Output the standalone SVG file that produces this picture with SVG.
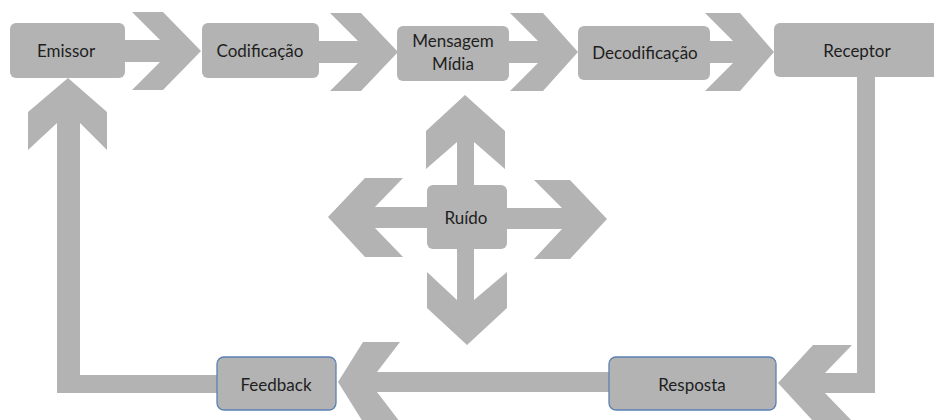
<svg xmlns="http://www.w3.org/2000/svg" width="934" height="420" viewBox="0 0 934 420">
<style>
.shape{fill:#b3b3b3;}
.box{fill:#b3b3b3;}
.box2{fill:#b3b3b3;stroke:#5b80b2;stroke-width:1.3;}
.lbl{font-family:Lato,"Open Sans","Liberation Sans",sans-serif;font-size:17px;fill:#1e1e1e;text-anchor:middle;}
</style>
<rect width="934" height="420" fill="#ffffff"/>
<g id="connectors">
<polygon class="shape" points="120,40 160,40 132,12 163,12 201,51 163,90 132,90 160,62 120,62"/>
<polygon class="shape" points="315,41 358,41 330,13 361,13 398,52 361,91 330,91 358,63 315,63"/>
<polygon class="shape" points="505,41 538,41 510,13 543,13 578,52 543,91 510,91 538,63 505,63"/>
<polygon class="shape" points="705,41 733,41 705,13 740,13 774,52 740,91 705,91 733,63 705,63"/>
<polygon class="shape" points="875,75 875,393 825,393 852,421 813,421 778,383 813,345 852,345 825,373 857,373 857,75"/>
<polygon class="shape" points="612,372 612,392 377,392 400,422 363,422 338,382 363,342 400,342 377,372"/>
<polygon class="shape" points="220,375 80,375 80,123 107,150 107,112 68,78 28,112 28,150 57,123 57,393 220,393"/>
<polygon class="shape" points="474,187 474,142 505,169 505,131 465,95 426,131 426,169 457,142 457,187"/>
<polygon class="shape" points="457,247 457,300 427,272 427,308 467,345 507,308 507,272 474,300 474,247"/>
<polygon class="shape" points="429,207 375,207 403,178 365,178 328,217 365,257 403,257 375,228 429,228"/>
<polygon class="shape" points="505,208 562,208 534,180 570,180 607,219 570,259 534,259 562,229 505,229"/>
</g>
<g id="emissor"><rect class="box" x="10" y="23" width="115" height="55" rx="6"/><text class="lbl" x="66" y="57">Emissor</text></g>
<g id="codificacao"><rect class="box" x="202" y="23" width="117" height="55" rx="6"/><text class="lbl" x="260" y="57">Codificação</text></g>
<g id="mensagem"><rect class="box" x="397" y="26" width="112" height="55" rx="6"/><text class="lbl" x="453" y="47">Mensagem</text><text class="lbl" x="453" y="70">Mídia</text></g>
<g id="decodificacao"><rect class="box" x="578" y="26" width="132" height="54" rx="6"/><text class="lbl" x="645" y="59">Decodificação</text></g>
<g id="receptor"><rect class="box" x="774" y="23" width="166" height="54" rx="6"/><text class="lbl" x="857" y="57">Receptor</text></g>
<g id="ruido"><rect class="box" x="427" y="185" width="80" height="64" rx="6"/><text class="lbl" x="466" y="224">Ruído</text></g>
<g id="feedback"><rect class="box2" x="217" y="357" width="119" height="53" rx="7"/><text class="lbl" x="276" y="391">Feedback</text></g>
<g id="resposta"><rect class="box2" x="609" y="357" width="167" height="53" rx="7"/><text class="lbl" x="692" y="391">Resposta</text></g>
</svg>
